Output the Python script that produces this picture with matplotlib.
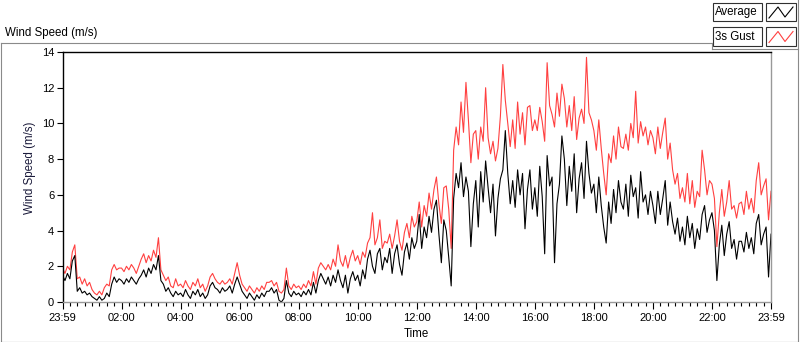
import numpy as np
import matplotlib.pyplot as plt
from matplotlib.patches import Rectangle
from matplotlib.lines import Line2D

plt.rcParams['font.family'] = ['Liberation Sans', 'DejaVu Sans']

# 5-minute samples, one row per hour (00:00 .. 23:55), plus the closing sample
avg_speed = [
    1.5, 1.2, 1.6, 1.3, 2.3, 2.6, 0.6, 0.8, 0.5, 0.6, 0.4, 0.5,
    0.3, 0.2, 0.1, 0.3, 0.1, 0.2, 0.5, 0.3, 1.0, 1.4, 1.1, 1.3,
    1.2, 1.0, 1.3, 1.1, 1.4, 1.2, 1.0, 1.3, 1.5, 1.8, 1.4, 1.9,
    1.6, 2.1, 1.8, 2.6, 1.2, 1.0, 0.6, 0.8, 0.5, 0.3, 0.6, 0.4,
    0.5, 0.3, 0.7, 0.4, 0.2, 0.6, 0.4, 0.7, 0.3, 0.5, 0.2, 0.4,
    0.9, 1.1, 0.8, 0.7, 0.5, 0.8, 0.6, 0.7, 0.9, 0.5, 1.0, 1.4,
    1.0, 0.6, 0.4, 0.2, 0.5, 0.3, 0.1, 0.4, 0.2, 0.5, 0.3, 0.6,
    0.6, 0.8, 0.5, 0.7, 0.1, 0.0, 0.2, 1.2, 0.5, 0.3, 0.6, 0.4,
    0.5, 0.3, 0.6, 0.4, 0.7, 0.4, 1.1, 0.5, 1.2, 1.6, 1.3, 1.0,
    1.4, 0.9, 1.5, 1.1, 1.8, 1.2, 0.8, 1.5, 0.5, 1.3, 1.7, 1.2,
    1.5, 0.9, 1.8, 1.3, 2.4, 2.9, 2.0, 1.6, 2.7, 3.0, 1.8, 2.5,
    2.2, 3.0, 1.6, 2.7, 3.2, 2.1, 1.5, 2.8, 3.3, 2.4, 3.6, 3.0,
    3.4, 4.9, 3.0, 4.2, 3.6, 4.8, 3.9, 5.2, 5.7, 3.8, 2.2, 4.6,
    4.0, 2.5, 0.9, 5.8, 7.2, 6.4, 7.8, 5.9, 7.0, 6.2, 3.1, 5.5,
    6.8, 4.2, 7.3, 5.6, 7.9, 6.4, 5.0, 6.6, 3.7, 5.8, 6.9, 7.4,
    9.6, 7.2, 5.5, 6.8, 5.3, 7.4, 6.0, 7.2, 4.1, 6.3, 7.4, 5.2,
    6.4, 4.8, 7.6, 5.9, 2.7, 8.2, 6.5, 7.0, 2.2, 5.5, 6.6, 9.3,
    8.0, 5.4, 7.6, 6.2, 8.3, 5.0, 6.9, 7.8, 5.8, 9.0, 7.2, 6.1,
    6.6, 5.0, 7.0, 5.4, 4.2, 3.3, 5.6, 4.4, 6.3, 5.0, 6.8, 5.6,
    5.2, 6.6, 4.8, 7.1, 5.9, 6.4, 4.7, 7.3, 5.6, 6.0, 4.9, 6.2,
    5.4, 4.4, 6.2, 4.9, 5.8, 6.8, 4.3, 5.6, 4.5, 3.8, 4.7, 3.4,
    4.2, 3.2, 4.8, 3.6, 4.4, 3.0, 4.1, 3.5, 4.9, 5.4, 3.9, 4.6,
    5.0, 4.0, 1.2, 3.2, 4.3, 2.6, 3.8, 4.5, 3.0, 3.5, 2.4, 3.4,
    3.4, 2.8, 3.9, 3.0, 3.6, 2.7, 4.4, 4.9, 3.2, 3.8, 4.2, 1.4,
    3.8,
]
gust_speed = [
    1.9, 1.6, 2.0, 1.8, 2.8, 3.2, 1.3, 1.4, 1.0, 1.3, 0.9, 1.1,
    0.7, 0.5, 0.4, 0.6, 0.4, 0.8, 1.0, 0.9, 1.8, 2.1, 1.8, 1.9,
    1.9, 1.7, 2.0, 1.8, 2.1, 1.9, 1.6, 2.0, 2.4, 2.7, 2.2, 2.6,
    2.3, 2.9, 2.5, 3.6, 1.8, 1.5, 1.2, 1.4, 0.9, 0.8, 1.3, 0.9,
    1.0, 0.8, 1.2, 0.9, 0.7, 1.1, 0.9, 1.3, 0.8, 1.0, 0.6, 0.9,
    1.4, 1.6, 1.3, 1.1, 1.0, 1.2, 1.0, 1.1, 1.3, 1.0, 1.6, 2.2,
    1.5, 1.0, 0.8, 0.6, 0.9, 0.7, 0.5, 0.8, 0.6, 0.9, 0.7, 1.1,
    1.1, 1.2, 0.9, 1.1, 0.6, 0.5, 0.7, 1.9, 0.9, 0.7, 1.0, 0.8,
    0.9, 0.7, 1.0, 0.8, 1.2, 0.9, 1.7, 1.0, 1.9, 2.2, 2.0, 1.8,
    2.1, 1.8, 2.4, 2.0, 3.2, 2.3, 2.0, 2.6, 1.9, 2.5, 2.9, 2.3,
    2.6, 2.1, 2.8, 2.5, 3.3, 3.6, 5.0, 3.2, 3.6, 4.6, 3.0, 3.4,
    3.3, 3.8, 3.0, 3.7, 4.6, 3.4, 2.9, 3.9, 4.4, 3.6, 4.8, 4.2,
    4.5, 5.6, 4.2, 5.4, 4.8, 6.1, 5.2, 6.3, 7.0, 5.5, 4.4, 6.4,
    6.5, 5.2, 3.0, 8.5, 9.8, 8.8, 11.2, 9.5, 12.3, 10.2, 7.8, 9.4,
    9.6, 8.0, 9.8, 9.0, 12.0, 9.2, 8.3, 9.0, 7.9, 8.6, 10.4, 13.3,
    11.3, 10.0, 8.7, 10.2, 8.6, 11.2, 9.4, 10.6, 8.8, 10.9, 11.0, 9.6,
    10.2, 9.6, 10.9, 10.1, 9.0, 13.4, 11.0, 10.5, 9.8, 11.7, 10.4, 12.2,
    11.4, 9.8, 11.0, 9.6, 11.5, 9.1, 10.3, 10.8, 10.0, 13.7, 10.6, 10.2,
    9.6, 8.5, 10.2, 8.6, 7.2, 6.0, 8.3, 7.8, 9.3, 8.0, 9.8, 8.7,
    8.6, 9.4, 8.5, 10.0, 9.2, 11.8, 8.9, 10.1, 9.3, 9.8, 8.8, 9.6,
    9.2, 8.3, 9.8, 8.6, 9.5, 10.3, 8.0, 8.9, 7.4, 6.6, 7.2, 5.8,
    6.4, 5.6, 7.2, 5.5, 6.8, 5.3, 6.2, 5.9, 8.5, 7.4, 6.0, 6.8,
    6.6, 5.8, 3.1, 5.0, 6.3, 4.8, 5.6, 6.8, 5.2, 5.4, 4.7, 5.5,
    5.6, 4.9, 6.2, 5.2, 5.8, 5.0, 6.8, 7.8, 6.0, 6.5, 6.9, 4.6,
    6.2,
]
minutes = np.arange(len(avg_speed)) * 5

tick_pos = np.arange(0, 1441, 120)
tick_labels = ['23:59', '02:00', '04:00', '06:00', '08:00', '10:00', '12:00',
               '14:00', '16:00', '18:00', '20:00', '22:00', '23:59']
y_ticks = [0, 2, 4, 6, 8, 10, 12, 14]

W, H = 800, 342
fig = plt.figure(figsize=(W / 100, H / 100), dpi=100)
fig.patch.set_facecolor('white')


def fx(px):
    return px / W


def fy(py):
    return 1 - py / H


ax = fig.add_axes([fx(62.5), fy(302), fx(771) - fx(62.5), fy(52) - fy(302)])
ax.plot(minutes, gust_speed, color='#ff4040', lw=0.8)
ax.plot(minutes, avg_speed, color='black', lw=0.8)
ax.set_xlim(0, 1440)
ax.set_ylim(0, 14)

ax.set_xticks(tick_pos)
ax.set_xticklabels(tick_labels, fontsize=8)
ax.set_xticks(np.arange(0, 1441, 15), minor=True)
ax.set_yticks(y_ticks)
ax.set_yticklabels([str(v) for v in y_ticks], fontsize=8)
ax.tick_params(axis='x', which='major', length=5, width=0.8, pad=3)
ax.tick_params(axis='x', which='minor', length=3, width=0.8)
ax.tick_params(axis='y', length=4, width=0.8, pad=2)

ax.spines['top'].set_color('black')
ax.spines['left'].set_color('black')
ax.spines['bottom'].set_color('#999999')
ax.spines['right'].set_color('#999999')
for s in ax.spines.values():
    s.set_linewidth(1.0)

fig.text(fx(416), fy(334), 'Time', fontsize=8.3, ha='center', va='center')
fig.text(fx(30), fy(168), 'Wind Speed (m/s)', fontsize=8.3, rotation=90,
         ha='center', va='center', color='#1a1a3a')
fig.text(fx(5), fy(33), 'Wind Speed (m/s)', fontsize=8.3, ha='left', va='center')

# outer panel frame
gray = '#8a8a8a'
fig.add_artist(Line2D([fx(0.5), fx(712)], [fy(42.5), fy(42.5)], color=gray, lw=0.8))
fig.add_artist(Line2D([fx(0.5), fx(0.5)], [fy(42.5), fy(341.5)], color=gray, lw=0.8))
fig.add_artist(Line2D([fx(0.5), fx(798)], [fy(341.5), fy(341.5)], color='#404040', lw=0.8))
fig.add_artist(Line2D([fx(798), fx(798)], [fy(0), fy(342)], color=gray, lw=0.8))
fig.add_artist(Line2D([fx(712), fx(712)], [fy(42.5), fy(48.5)], color=gray, lw=0.8))
fig.add_artist(Line2D([fx(712), fx(798)], [fy(48.5), fy(48.5)], color=gray, lw=0.8))

# legend boxes
legend_rows = [('Average', 'black', 3), ('3s Gust', '#ff4040', 27.5)]
for name, col, top in legend_rows:
    fig.add_artist(Rectangle((fx(713), fy(top + 18)), fx(762) - fx(713), fy(top) - fy(top + 18),
                             transform=fig.transFigure, facecolor='white', edgecolor='#303030', lw=0.8))
    fig.text(fx(715), fy(top + 9), name, fontsize=8.3, ha='left', va='center')
    fig.add_artist(Rectangle((fx(766), fy(top + 18)), fx(796) - fx(766), fy(top) - fy(top + 18),
                             transform=fig.transFigure, facecolor='white', edgecolor='#303030', lw=0.8))
    zx = [769, 778, 785, 793]
    zy = [top + 15, top + 4, top + 14, top + 4]
    fig.add_artist(Line2D([fx(v) for v in zx], [fy(v) for v in zy], color=col, lw=0.8))

fig.savefig('out.png', dpi=100)
